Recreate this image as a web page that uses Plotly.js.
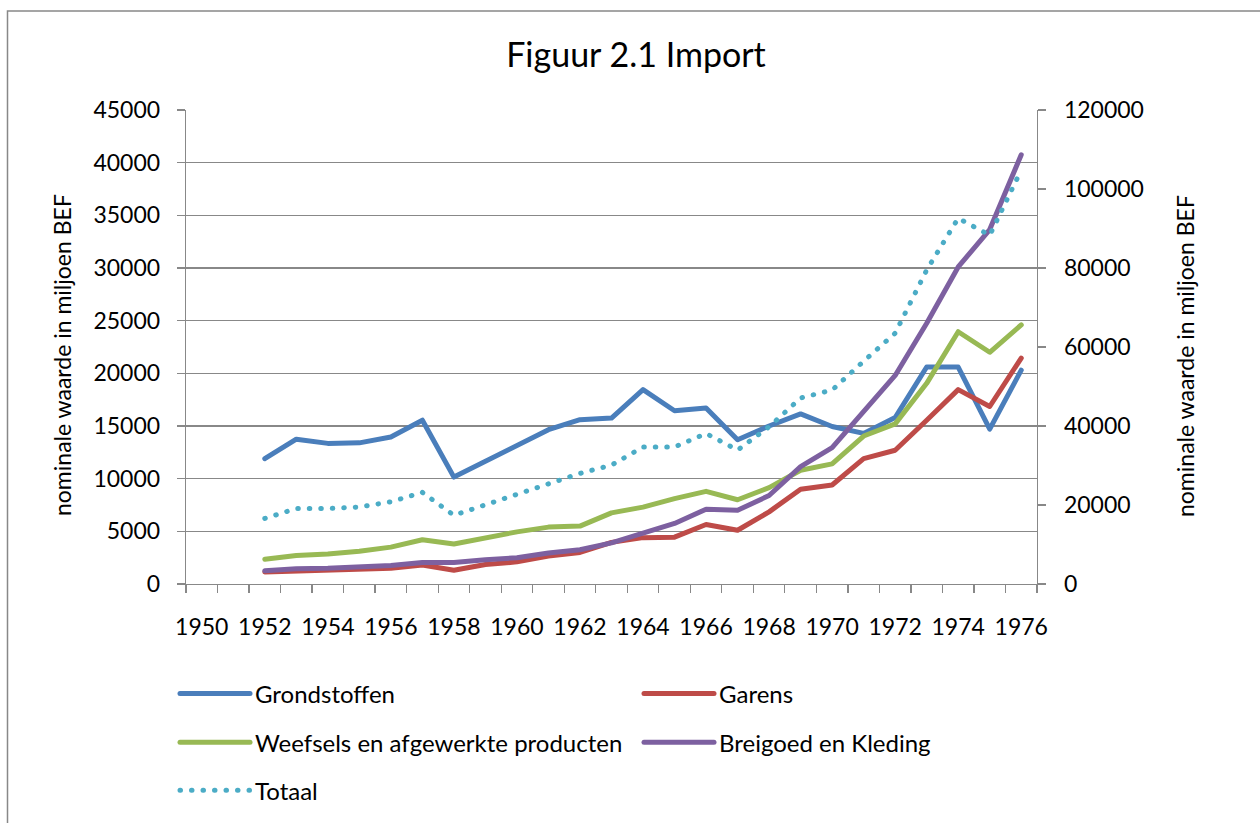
<!DOCTYPE html>
<html>
<head>
<meta charset="utf-8">
<script src="https://cdn.plot.ly/plotly-3.0.1.min.js"></script>
<style>
html,body{margin:0;padding:0;background:#fff;}
#chart{width:1260px;height:823px;}
.js-line, .legendlines path { stroke-linecap: round; stroke-linejoin: round; }
</style>
</head>
<body>
<div id="chart"></div>
<script>
// ---- data ----
var years = [1952,1953,1954,1955,1956,1957,1958,1959,1960,1961,1962,1963,1964,1965,1966,1967,1968,1969,1970,1971,1972,1973,1974,1975,1976];
var grondstoffen = [11900,13750,13350,13400,13950,15550,10150,11650,13150,14650,15600,15750,18450,16450,16700,13700,15000,16150,14950,14300,15800,20600,20600,14700,20300];
var garens = [1150,1250,1300,1400,1500,1800,1300,1850,2100,2650,3000,3950,4400,4450,5650,5100,6850,9000,9400,11900,12700,15550,18450,16850,21450];
var weefsels = [2350,2700,2850,3100,3500,4200,3800,4400,4950,5400,5500,6750,7300,8100,8800,8000,9150,10800,11400,14050,15200,19050,23950,22000,24600];
var breigoed = [1250,1450,1500,1600,1750,2050,2050,2300,2500,2950,3250,3900,4850,5750,7100,7000,8400,11150,12950,16350,19800,24750,30100,33650,40750];
var totaal = [16600,19100,19100,19500,20800,23200,17400,20000,22900,25400,28000,30100,34700,34700,38100,33900,39800,47100,49100,56400,63500,79500,92600,88300,104800];
var seriesNames = ['Grondstoffen','Garens','Weefsels en afgewerkte producten','Breigoed en Kleding','Totaal'];
var xTickLabels = [1950,1952,1954,1956,1958,1960,1962,1964,1966,1968,1970,1972,1974,1976];
var yLeftTicks = [0,5000,10000,15000,20000,25000,30000,35000,40000,45000];
var yRightTicks = [0,20000,40000,60000,80000,100000,120000];

// ---- layout helpers (pixels -> paper) ----
var W = 1260, H = 823;
var mL = 186, mR = 223, mT = 110, mB = 239;
var pw = W - mL - mR, ph = H - mT - mB;
function px(x){ return (x - mL) / pw; }
function py(y){ return (H - mB - y) / ph; }

var FONT = 'Lato, "Open Sans", sans-serif';
var colors = ['#4A7EBB','#BE4B48','#98B954','#7D60A0','#4BACC6'];
var legendIds = ['legend','legend2','legend3','legend4','legend5'];

function tr(y, i, axis, dash){
  return {
    x: years, y: y, name: seriesNames[i], type: 'scatter', mode: 'lines',
    yaxis: axis, legend: legendIds[i],
    line: {color: colors[i], width: 5, dash: dash || 'solid'},
    hoverinfo: 'x+y+name'
  };
}

var data = [
  tr(grondstoffen, 0, 'y'),
  tr(garens, 1, 'y'),
  tr(weefsels, 2, 'y'),
  tr(breigoed, 3, 'y'),
  tr(totaal, 4, 'y2', '0.5px,11px')
];

function legendAt(xpix, ypix){
  return {
    orientation: 'h', x: px(xpix), xanchor: 'left', y: py(ypix), yanchor: 'middle',
    itemwidth: 70,
    font: {family: FONT, size: 24, color: '#000'},
    bgcolor: 'rgba(0,0,0,0)', borderwidth: 0
  };
}

var layout = {
  width: W, height: H,
  margin: {l: mL, r: mR, t: mT, b: mB, autoexpand: false},
  paper_bgcolor: '#fff', plot_bgcolor: '#fff',
  font: {family: FONT, color: '#000', size: 23},
  showlegend: true,
  title: {
    text: 'Figuur 2.1 Import',
    font: {family: FONT, size: 34, color: '#000'},
    xref: 'container', x: 636 / W, xanchor: 'center',
    yref: 'container', y: 1 - 55 / H, yanchor: 'middle'
  },
  xaxis: {
    type: 'linear', range: [1949.5, 1976.5],
    tickmode: 'array', tickvals: xTickLabels, ticktext: xTickLabels.map(String),
    ticks: '', showgrid: false, zeroline: false,
    showline: true, linecolor: '#888', linewidth: 1.3,
    tickfont: {family: FONT, size: 23, color: '#000'},
    ticklabelstandoff: 22,
    minor: {tickmode: 'linear', tick0: 1949.5, dtick: 1, ticks: 'outside', ticklen: 8, tickwidth: 1.3, tickcolor: '#888', showgrid: false},
    fixedrange: true
  },
  yaxis: {
    range: [0, 45000], tickmode: 'array', tickvals: yLeftTicks, tickformat: 'd',
    ticks: 'outside', ticklen: 8, tickwidth: 1.3, tickcolor: '#888',
    showline: true, linecolor: '#888', linewidth: 1.3,
    showgrid: true, gridcolor: '#888', gridwidth: 1.3, zeroline: false,
    tickfont: {family: FONT, size: 23, color: '#000'},
    ticklabelstandoff: 12,
    fixedrange: true
  },
  yaxis2: {
    overlaying: 'y', side: 'right',
    range: [0, 120000], tickmode: 'array', tickvals: yRightTicks, tickformat: 'd',
    ticks: 'outside', ticklen: 8, tickwidth: 1.3, tickcolor: '#888',
    showline: true, linecolor: '#888', linewidth: 1.3,
    showgrid: false, zeroline: false,
    tickfont: {family: FONT, size: 23, color: '#000'},
    ticklabelstandoff: 13,
    fixedrange: true
  },
  legend: legendAt(175, 694),
  legend2: legendAt(639, 694),
  legend3: legendAt(175, 742.7),
  legend4: legendAt(639, 742.7),
  legend5: legendAt(175, 790.7),
  annotations: [
    {text: 'nominale waarde in miljoen BEF', xref: 'paper', yref: 'paper',
     x: px(62), y: py(355), xanchor: 'center', yanchor: 'middle', textangle: -90,
     showarrow: false, font: {family: FONT, size: 23, color: '#000'}},
    {text: 'nominale waarde in miljoen BEF', xref: 'paper', yref: 'paper',
     x: px(1185), y: py(356), xanchor: 'center', yanchor: 'middle', textangle: -90,
     showarrow: false, font: {family: FONT, size: 23, color: '#000'}}
  ],
  shapes: [
    {type: 'rect', xref: 'paper', yref: 'paper', x0: px(7.5), x1: px(1300), y0: py(860), y1: py(11),
     line: {color: '#888', width: 1.5}, fillcolor: 'rgba(0,0,0,0)', layer: 'below'}
  ]
};

Plotly.newPlot('chart', data, layout, {displayModeBar: false, staticPlot: true});
</script>
</body>
</html>
